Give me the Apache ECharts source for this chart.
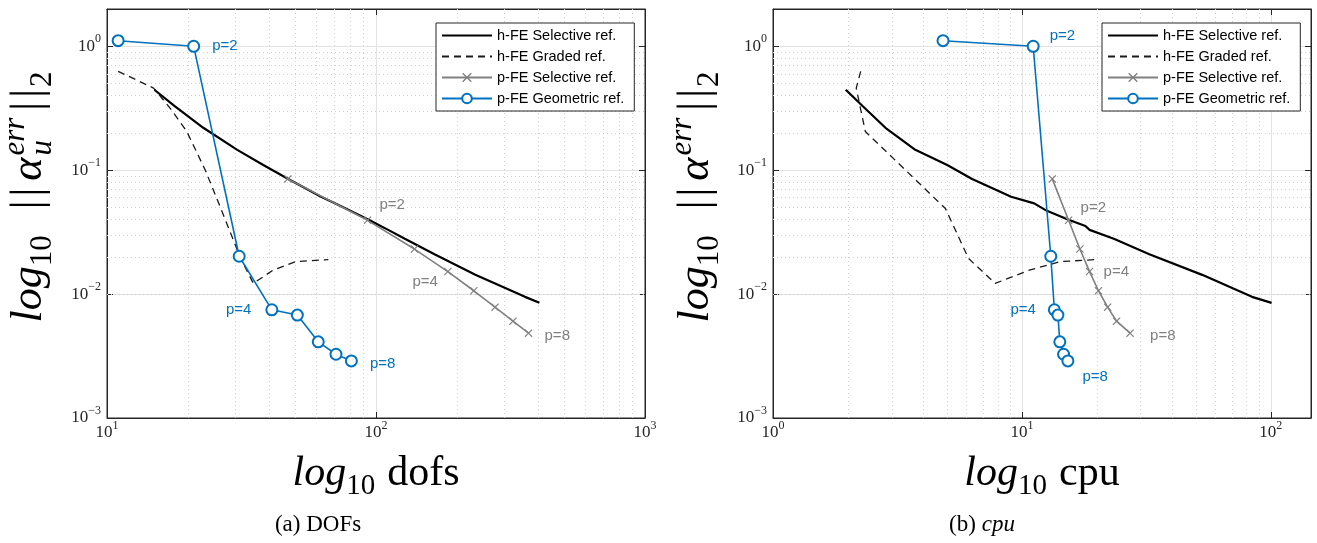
<!DOCTYPE html>
<html>
<head>
<meta charset="utf-8">
<script src="https://cdn.jsdelivr.net/npm/echarts@6/dist/echarts.min.js"></script>
<style>
    html, body { margin: 0; padding: 0; background: #fff; }
    #chart { width: 1317px; height: 543px; }
</style>
</head>
<body>
<div id="chart"></div>
<script>
// series names
var names = ['h-FE Selective ref.', 'h-FE Graded ref.', 'p-FE Selective ref.', 'p-FE Geometric ref.'];

// p-FE Geometric refinement, p = 1..8
var geoErr = [1.11, 1.0, 0.0202, 0.00747, 0.00677, 0.00412, 0.00327, 0.00289];
var geoDofs = [11, 21, 31, 41, 51, 61, 71, 81];
var geoCpu = [4.82, 11.1, 13.06, 13.5, 13.95, 14.2, 14.7, 15.3];

// p-FE Selective refinement, p = 1..8
var selErr = [0.0851, 0.0394, 0.0231, 0.0152, 0.01064, 0.00785, 0.00605, 0.00484];
var selDofs = [47, 93, 139, 185, 231, 277, 323, 369];
var selCpu = [13.24, 15.4, 17.1, 18.7, 20.3, 22.1, 24.0, 27.2];

// h-FE Selective refinement
var hSelErr = [0.446, 0.33, 0.22, 0.146, 0.11, 0.085, 0.061, 0.054, 0.047, 0.04, 0.0355, 0.033, 0.028, 0.021, 0.0143, 0.0095, 0.0085];
var hSelDofs = [15.0, 17.8, 22.8, 30.5, 38.1, 47.2, 62.5, 70.3, 80.2, 93.5, 104, 111, 128, 165, 234, 358, 405];
var hSelCpu = [1.96, 2.29, 2.83, 3.73, 5.01, 6.31, 9.05, 11.2, 12.6, 15.3, 18.0, 18.7, 23.4, 32.5, 53, 84, 100.7];

// h-FE Graded refinement
var hGrdErr = [0.628, 0.46, 0.31, 0.205, 0.10, 0.049, 0.0194, 0.0122, 0.0156, 0.0183, 0.019];
var hGrdDofs = [11, 14.9, 17.3, 19.8, 23.2, 26.5, 31.4, 35, 41.4, 50.4, 66.5];
var hGrdCpu = [2.25, 2.16, 2.25, 2.35, 3.41, 4.93, 6.1, 7.81, 10.7, 14.3, 19.9];

// axis ranges
var dofsRange = [10, 1000];
var cpuRange = [1, 145];
var errRange = [0.001, 2];

var SERIF = '"Liberation Serif", "DejaVu Serif", serif';
var SANS = '"Liberation Sans", Arial, sans-serif';
var BLUE = '#0072BD';
var GREY = '#808080';
var X_MARK = 'path://M0,1L1,0L5,4L9,0L10,1L6,5L10,9L9,10L5,6L1,10L0,9L4,5Z';
var CLEAR = 'rgba(0,0,0,0)';

function pts(xs, ys, labels, color) {
    return xs.map(function (x, i) {
        var item = { value: [x, ys[i]] };
        if (labels && labels[i]) {
            var l = labels[i];
            item.label = {
                show: true,
                formatter: 'p=' + (i + 1),
                position: l.pos,
                distance: l.d,
                offset: l.off || [0, 0],
                color: color,
                fontFamily: SANS,
                fontSize: 15
            };
        }
        return item;
    });
}

// minor (2..9) gridline values inside a range
function minorVals(min, max) {
    var out = [];
    for (var k = -4; k <= 3; k++) {
        for (var m = 2; m <= 9; m++) {
            var v = m * Math.pow(10, k);
            if (v > min * 1.0001 && v < max * 0.9999) out.push(v);
        }
    }
    return out;
}

function tickLabel(v) {
    var lg = Math.log10(v);
    var e = Math.round(lg);
    if (Math.abs(lg - e) > 1e-6) return '';
    return '{b|10}{e|' + (e < 0 ? '\u2212' + (-e) : e) + '}';
}

function logAxis(g, range, pos, margin) {
    var main = margin !== undefined;
    return {
        type: 'log',
        gridIndex: g,
        min: range[0],
        max: range[1],
        position: pos,
        axisLine: { show: true, lineStyle: { color: '#262626', width: 1 } },
        axisTick: { show: true, inside: true, length: 6, lineStyle: { color: '#262626' } },
        axisLabel: main ? {
            show: true,
            margin: margin,
            formatter: tickLabel,
            rich: {
                b: { fontFamily: SERIF, fontSize: 17, color: '#262626', lineHeight: 26 },
                e: { fontFamily: SERIF, fontSize: 12, color: '#262626', lineHeight: 12, verticalAlign: 'top' }
            }
        } : { show: false },
        splitLine: { show: main, lineStyle: { color: '#e3e3e3', width: 1 } }
    };
}

function plotSeries(k, hSelX, hGrdX, selX, geoX, selLab, geoLab, xr) {
    var minorData = minorVals(xr[0], xr[1]).map(function (v) { return { xAxis: v }; })
        .concat(minorVals(errRange[0], errRange[1]).map(function (v) { return { yAxis: v }; }));
    return [
        {
            name: 'minor', type: 'line', xAxisIndex: k, yAxisIndex: k, data: [],
            markLine: {
                silent: true, z: 1, symbol: ['none', 'none'], label: { show: false },
                lineStyle: { color: '#cfcfcf', width: 1, type: [1, 3] },
                emphasis: { disabled: true },
                data: minorData
            }
        },
        {
            name: names[0], type: 'line', xAxisIndex: k, yAxisIndex: k,
            symbol: 'circle', showSymbol: false, color: '#000',
            itemStyle: { color: CLEAR },
            lineStyle: { color: '#000', width: 2.2 },
            data: pts(hSelX, hSelErr)
        },
        {
            name: names[1], type: 'line', xAxisIndex: k, yAxisIndex: k,
            symbol: 'circle', showSymbol: false, color: '#1a1a1a',
            itemStyle: { color: CLEAR },
            lineStyle: { color: '#1a1a1a', width: 1.3, type: [7, 5] },
            data: pts(hGrdX, hGrdErr)
        },
        {
            name: names[2], type: 'line', xAxisIndex: k, yAxisIndex: k,
            symbol: X_MARK, symbolSize: 8, color: GREY,
            itemStyle: { color: GREY },
            lineStyle: { color: GREY, width: 1.6 },
            data: pts(selX, selErr, selLab, GREY)
        },
        {
            name: names[3], type: 'line', xAxisIndex: k, yAxisIndex: k,
            symbol: 'emptyCircle', symbolSize: 11, color: BLUE,
            itemStyle: { color: BLUE, borderWidth: 1.6 },
            lineStyle: { color: BLUE, width: 1.6 },
            data: pts(geoX, geoErr, geoLab, BLUE)
        }
    ];
}

// label placements (layout only)
var leftSelLab = { 1: { pos: 'right', d: 8, off: [0, -15] }, 3: { pos: 'left', d: 6, off: [0, 10] }, 7: { pos: 'right', d: 12, off: [0, 3] } };
var leftGeoLab = { 1: { pos: 'right', d: 12 }, 3: { pos: 'left', d: 14 }, 7: { pos: 'right', d: 12, off: [0, 3] } };
var rightSelLab = { 1: { pos: 'right', d: 8, off: [0, -12] }, 3: { pos: 'right', d: 10 }, 7: { pos: 'right', d: 16, off: [0, 3] } };
var rightGeoLab = { 1: { pos: 'right', d: 10, off: [0, -10] }, 3: { pos: 'left', d: 12 }, 7: { pos: 'right', d: 8, off: [0, 16] } };

// math-like text built from pieces
var measure = document.createElement('canvas').getContext('2d');
function mathLabel(pieces, x, y, rotation) {
    var cursor = 0, held = 0, children = [];
    pieces.forEach(function (p) {
        var font = (p.italic ? 'italic ' : '') + p.size + 'px ' + SERIF;
        measure.font = font;
        var w = measure.measureText(p.t).width;
        cursor += p.before || 0;
        children.push({
            type: 'text', x: cursor, y: (p.dy || 0) - 0.3 * p.size,
            style: { text: p.t, font: font, fill: '#000', align: 'left', verticalAlign: 'middle' }
        });
        if (p.hold) { held = w; } else { cursor += Math.max(w, held); held = 0; }
    });
    children.forEach(function (c) { c.x -= cursor / 2; });
    return { type: 'group', x: x, y: y, rotation: rotation || 0, silent: true, children: children };
}

function yName(withU) {
    var S = 44, s = 31;
    var p = [
        { t: 'log', size: S, italic: true },
        { t: '10', size: s, dy: 9 },
        { t: '|', size: S, before: 26 },
        { t: '|', size: S, before: 4 },
        { t: '\u03b1', size: S, italic: true, before: 7 },
        { t: 'err', size: s, italic: true, dy: -18, hold: withU, before: 2 }
    ];
    if (withU) p.push({ t: 'u', size: s, italic: true, dy: 9 });
    p.push({ t: '|', size: S, before: 7 });
    p.push({ t: '|', size: S, before: 4 });
    p.push({ t: '2', size: s, dy: 9, before: 2 });
    return p;
}

function xName(word) {
    return [
        { t: 'log', size: 42, italic: true },
        { t: '10', size: 29, dy: 8 },
        { t: word, size: 42, before: 12 }
    ];
}

function legendAt(left) {
    return {
        left: left, top: 23, orient: 'vertical', data: names,
        itemWidth: 50, itemHeight: 12, itemGap: 6,
        padding: [5, 10, 5, 5],
        borderColor: '#262626', borderWidth: 1, backgroundColor: '#fff',
        selectedMode: false,
        textStyle: { fontFamily: SANS, fontSize: 14.5, color: '#000' }
    };
}

window.onload = function () {
    var chart = echarts.init(document.getElementById('chart'));

    var option = {
        animation: false,
        backgroundColor: '#fff',
        grid: [
            { left: 107, top: 9, width: 538, height: 409, show: true, borderColor: '#262626', borderWidth: 1 },
            { left: 773, top: 9, width: 538, height: 409, show: true, borderColor: '#262626', borderWidth: 1 }
        ],
        legend: [legendAt(436), legendAt(1102)],
        xAxis: [
            logAxis(0, dofsRange, 'bottom', 2),
            logAxis(1, cpuRange, 'bottom', 2),
            logAxis(0, dofsRange, 'top'),
            logAxis(1, cpuRange, 'top')
        ],
        yAxis: [
            logAxis(0, errRange, 'left', 6),
            logAxis(1, errRange, 'left', 6),
            logAxis(0, errRange, 'right'),
            logAxis(1, errRange, 'right')
        ],
        series: plotSeries(0, hSelDofs, hGrdDofs, selDofs, geoDofs, leftSelLab, leftGeoLab, dofsRange)
            .concat(plotSeries(1, hSelCpu, hGrdCpu, selCpu, geoCpu, rightSelLab, rightGeoLab, cpuRange)),
        graphic: [
            mathLabel(yName(true), 43, 197, Math.PI / 2),
            mathLabel(yName(false), 710, 197, Math.PI / 2),
            mathLabel(xName('dofs'), 376, 487),
            mathLabel(xName('cpu'), 1042, 487),
            mathLabel([{ t: '(a) DOFs', size: 23 }], 318, 532),
            mathLabel([{ t: '(b) ', size: 23 }, { t: 'cpu', size: 23, italic: true }], 982, 532)
        ]
    };

    chart.setOption(option);
};
</script>
</body>
</html>
